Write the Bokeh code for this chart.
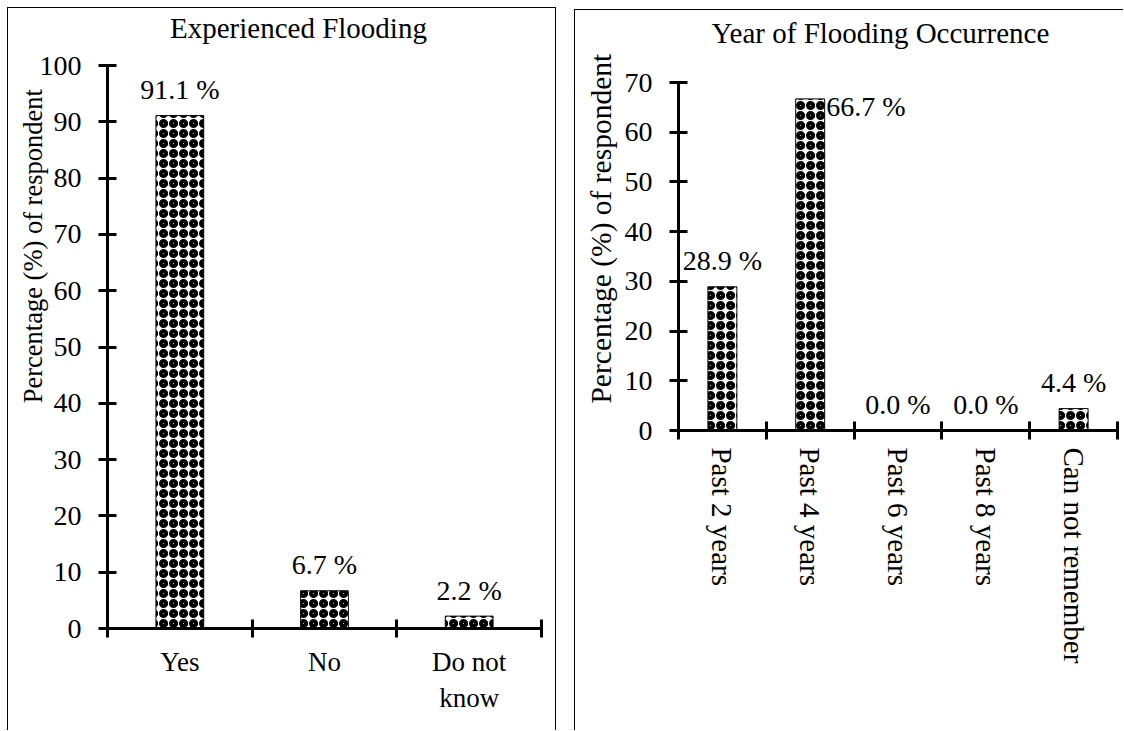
from bokeh.plotting import figure
from bokeh.models import Range1d, FixedTicker, SingleIntervalTicker, ColumnDataSource, LinearAxis
from bokeh.core.properties import value
from bokeh.embed import file_html
from bokeh.resources import INLINE

# ---- data ----
cats_left = ["Yes", "No", "Do not\nknow"]
vals_left = [91.1, 6.7, 2.2]
title_left = "Experienced Flooding"

cats_right = ["Past 2 years", "Past 4 years", "Past 6 years", "Past 8 years", "Can not remember"]
vals_right = [28.9, 66.7, 0.0, 0.0, 4.4]
title_right = "Year of Flooding Occurrence"

ylabel = "Percentage (%) of respondent"

FONT = "Liberation Serif"


def text_axis(p, side, tick, text, standoff, size, vertical=False):
    """An axis used only to carry one text label at a given position."""
    ax = LinearAxis(ticker=FixedTicker(ticks=[tick], minor_ticks=[]),
                    major_label_overrides={tick: text})
    ax.axis_line_color = None
    ax.major_tick_line_color = None
    ax.minor_tick_line_color = None
    ax.major_tick_in = 0
    ax.major_tick_out = 0
    ax.major_label_standoff = standoff
    ax.major_label_text_font = FONT
    ax.major_label_text_font_size = size
    ax.major_label_text_color = "black"
    if vertical:
        ax.major_label_orientation = "vertical"
    p.add_layout(ax, side)
    return ax


def make_panel(cats, vals, title, ymax, pos, size, borders, box_styles,
               title_at, title_standoff, ylab_at, ylab_standoff, ylab_size,
               label_font, x_label_orient, x_label_standoff,
               lab_xoff, lab_yoff, lab_align):
    n = len(cats)
    width, height = size
    styles = {"position": "absolute", "left": f"{pos[0]}px", "top": f"{pos[1]}px"}
    styles.update(box_styles)
    p = figure(width=width, height=height, output_backend="svg", toolbar_location=None,
               x_range=Range1d(0, n), y_range=Range1d(0, ymax),
               min_border_left=borders[0], min_border_right=borders[1],
               min_border_top=borders[2], min_border_bottom=borders[3],
               styles=styles)
    p.outline_line_color = None
    p.xgrid.visible = False
    p.ygrid.visible = False

    xs = [i + 0.5 for i in range(n)]
    src = ColumnDataSource(dict(x=xs, top=vals,
                                lab=[f"{v:.1f} %" for v in vals],
                                xo=lab_xoff, yo=lab_yoff, al=lab_align))
    p.vbar(x="x", top="top", bottom=0, width=0.33, source=src,
           fill_color="white", line_color="black", line_width=1,
           hatch_pattern="ring", hatch_color="black", hatch_scale=10, hatch_weight=4)
    p.text(x="x", y="top", text="lab", source=src, x_offset="xo", y_offset="yo",
           text_align="al", text_baseline="alphabetic",
           text_font=value(FONT), text_font_size="28px", text_color="black")

    # x axis
    xa = p.xaxis[0]
    xa.ticker = FixedTicker(ticks=xs, minor_ticks=list(range(n + 1)))
    xa.major_label_overrides = {x: c for x, c in zip(xs, cats)}
    xa.major_tick_line_color = None
    xa.major_tick_out = 9
    xa.major_tick_in = 0
    xa.minor_tick_in = 9
    xa.minor_tick_out = 9
    xa.minor_tick_line_width = 3
    xa.minor_tick_line_color = "black"
    xa.axis_line_width = 3
    xa.axis_line_color = "black"
    xa.major_label_text_font = FONT
    xa.major_label_text_font_size = label_font
    xa.major_label_text_color = "black"
    xa.major_label_standoff = x_label_standoff
    if x_label_orient is not None:
        xa.major_label_orientation = x_label_orient

    # y axis
    ya = p.yaxis[0]
    ya.ticker = SingleIntervalTicker(interval=10, num_minor_ticks=0)
    ya.major_tick_in = 9
    ya.major_tick_out = 9
    ya.major_tick_line_width = 3
    ya.major_tick_line_color = "black"
    ya.minor_tick_line_color = None
    ya.axis_line_width = 3
    ya.axis_line_color = "black"
    ya.major_label_text_font = FONT
    ya.major_label_text_font_size = "28px"
    ya.major_label_text_color = "black"
    ya.major_label_standoff = 17

    # y-axis title (placed along the axis like the original) and chart title
    text_axis(p, "left", ylab_at, ylabel, ylab_standoff, ylab_size, vertical=True)
    text_axis(p, "above", title_at, title, title_standoff, "29px")
    return p


BORDER = "1px solid black"
p1 = make_panel(cats_left, vals_left, title_left, 100, (7, 7), (549, 723), (99, 16, 57, 103),
                {"border-left": BORDER, "border-top": BORDER, "border-right": BORDER},
                1.32, 22, 67.9, -12, "26.5px",
                "27px", None, 9,
                [0, 0, 0], [-26, -26, -26], ["center"] * 3)
p2 = make_panel(cats_right, vals_right, title_right, 70, (574, 9), (549, 721), (103, 7, 72, 301),
                {"border-left": BORDER, "border-top": BORDER},
                2.3, 34, 40.6, 4, "29.5px",
                "29px", "vertical", 8,
                [0, 16, 0, 0, 0], [-26, 8, -26, -26, -26],
                ["center", "left", "center", "center", "center"])

open("out.html", "w").write(file_html([p1, p2], INLINE))
